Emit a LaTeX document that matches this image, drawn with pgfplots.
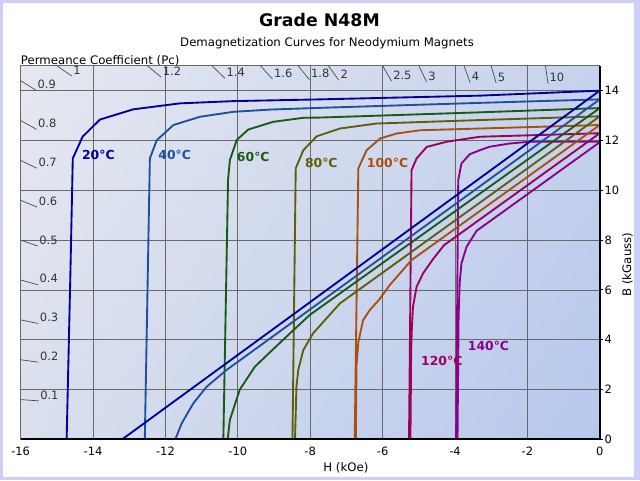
\documentclass[border=0pt]{standalone}
\usepackage{fontspec}
\setmainfont{DejaVu Sans}
\usepackage{pgfplots}
\pgfplotsset{compat=1.18}
\usetikzlibrary{shadings}

\definecolor{framec}{RGB}{206,206,250}
\definecolor{bgTL}{RGB}{230,232,241}
\definecolor{bgTR}{RGB}{198,210,236}
\definecolor{bgBL}{RGB}{218,223,237}
\definecolor{bgBR}{RGB}{182,200,237}
\definecolor{gridc}{RGB}{105,105,105}
\definecolor{pcc}{RGB}{70,70,70}
\definecolor{c20}{RGB}{0,0,160}
\definecolor{c40}{RGB}{30,80,160}
\definecolor{c60}{RGB}{25,90,20}
\definecolor{c80}{RGB}{95,95,10}
\definecolor{c100}{RGB}{170,80,15}
\definecolor{c120}{RGB}{155,0,95}
\definecolor{c140}{RGB}{140,0,140}

\tikzset{
  pcl/.style={anchor=south west, inner sep=1pt, font=\fontsize{8.6}{10}\selectfont, text=black!80},
  pcline/.style={pcc, line width=0.5pt},
  tl/.style={anchor=west, inner sep=0pt, font=\bfseries\fontsize{9.3}{11}\selectfont},
  curve/.style={line width=1.4pt},
}

\begin{document}
\begin{tikzpicture}
\useasboundingbox (0,0) rectangle (480pt,360pt);
\fill[framec] (0,0) rectangle (480pt,360pt);
\fill[white] (2.25pt,2.25pt) rectangle (475.5pt,357.75pt);

\node[anchor=base, font=\bfseries\fontsize{13}{15}\selectfont] at (239.6pt,340.5pt) {Grade N48M};
\node[anchor=base, font=\fontsize{8.8}{10}\selectfont] at (245.3pt,325.5pt) {Demagnetization Curves for Neodymium Magnets};
\node[anchor=base west, inner sep=0pt, font=\fontsize{8.8}{10}\selectfont] at (15.5pt,311.6pt) {Permeance Coefficient (Pc)};
\node[anchor=base, inner sep=0pt, font=\fontsize{8.8}{10}\selectfont] at (259.4pt,6.6pt) {H (kOe)};
\node[anchor=base west, rotate=90, inner sep=0pt, font=\fontsize{8.8}{10}\selectfont] at (473.3pt,137.5pt) {B (kGauss)};

\begin{axis}[
  at={(15.5pt,30.4pt)}, anchor=south west,
  scale only axis, width=434.3pt, height=280.3pt,
  xmin=-16, xmax=0, ymin=0, ymax=15,
  clip=false,
  axis background/.style={shade, shading=bilinear interpolation,
    lower left=bgBL, upper left=bgTL, upper right=bgTR, lower right=bgBR},
  xtick={-16,-14,...,0},
  xticklabels={-16,-14,-12,-10,-8,-6,-4,-2,0},
  ytick={0,2,...,14},
  yticklabels={0,2,4,6,8,10,12,14},
  xtick pos=bottom, ytick pos=right, yticklabel pos=right,
  tick align=outside, major tick length=2.25pt,
  xtick style={draw=none},
  ytick style={black, line width=0.75pt},
  yticklabel style={xshift=-2.2pt},
  grid=major,
  major grid style={gridc, line width=0.6pt},
  axis line style={gridc, line width=0.6pt},
  ticklabel style={font=\fontsize{8.6}{10}\selectfont, text=black},
]

% load-line (permeance coefficient) marks
\draw[pcline] (axis cs:-16,1.6) -- (axis cs:-15.504,1.5504) node[pcl] {0.1};
\draw[pcline] (axis cs:-16,3.2) -- (axis cs:-15.5074,3.1015) node[pcl] {0.2};
\draw[pcline] (axis cs:-16,4.8) -- (axis cs:-15.513,4.654) node[pcl] {0.3};
\draw[pcline] (axis cs:-16,6.4) -- (axis cs:-15.5206,6.2082) node[pcl] {0.4};
\draw[pcline] (axis cs:-16,8.0) -- (axis cs:-15.5299,7.765) node[pcl] {0.5};
\draw[pcline] (axis cs:-16,9.6) -- (axis cs:-15.5405,9.3243) node[pcl] {0.6};
\draw[pcline] (axis cs:-16,11.2) -- (axis cs:-15.5521,10.8865) node[pcl] {0.7};
\draw[pcline] (axis cs:-16,12.8) -- (axis cs:-15.5645,12.4516) node[pcl] {0.8};
\draw[pcline] (axis cs:-16,14.4) -- (axis cs:-15.5774,14.0196) node[pcl] {0.9};
\draw[pcline] (axis cs:-15,15) -- (axis cs:-14.5905,14.5905) node[pcl] {1};
\draw[pcline] (axis cs:-12.5,15) -- (axis cs:-12.1167,14.54) node[pcl] {1.2};
\draw[pcline] (axis cs:-10.7143,15) -- (axis cs:-10.3563,14.4988) node[pcl] {1.4};
\draw[pcline] (axis cs:-9.375,15) -- (axis cs:-9.0408,14.4653) node[pcl] {1.6};
\draw[pcline] (axis cs:-8.3333,15) -- (axis cs:-8.0211,14.438) node[pcl] {1.8};
\draw[pcline] (axis cs:-7.5,15) -- (axis cs:-7.2079,14.4157) node[pcl] {2};
\draw[pcline] (axis cs:-6,15) -- (axis cs:-5.7503,14.3757) node[pcl] {2.5};
\draw[pcline] (axis cs:-5,15) -- (axis cs:-4.7834,14.3501) node[pcl] {3};
\draw[pcline] (axis cs:-3.75,15) -- (axis cs:-3.5803,14.3213) node[pcl] {4};
\draw[pcline] (axis cs:-3,15) -- (axis cs:-2.8613,14.3066) node[pcl] {5};
\draw[pcline] (axis cs:-1.5,15) -- (axis cs:-1.4285,14.2855) node[pcl] {10};

% intrinsic curves
\addplot[c20, curve] coordinates {
  (0,14.0) (-3.31,13.80) (-7.73,13.65) (-10.13,13.58) (-11.60,13.49)
  (-12.89,13.25) (-13.81,12.84) (-14.29,12.15) (-14.56,11.28) (-14.63,6.4) (-14.73,0)};
\addplot[c40, curve] coordinates {
  (0,13.65) (-3.31,13.51) (-7.73,13.31) (-9.11,13.24) (-10.13,13.15)
  (-11.05,12.95) (-11.78,12.62) (-12.24,12.01) (-12.43,11.28) (-12.57,0)};
\addplot[c60, curve] coordinates {
  (0,13.30) (-3.31,13.13) (-7.73,12.92) (-8.19,12.91) (-9.02,12.75)
  (-9.71,12.44) (-10.03,12.02) (-10.22,11.21) (-10.27,10.41) (-10.40,0)};
\addplot[c80, curve] coordinates {
  (0,12.97) (-3.31,12.82) (-6.17,12.68) (-7.18,12.48) (-7.82,12.17)
  (-8.19,11.61) (-8.40,10.88) (-8.49,0)};
\addplot[c100, curve] coordinates {
  (0,12.62) (-3.31,12.48) (-4.97,12.41) (-5.61,12.28) (-6.07,12.08)
  (-6.44,11.61) (-6.67,10.88) (-6.77,0)};
\addplot[c120, curve] coordinates {
  (0,12.29) (-3.31,12.15) (-4.23,11.95) (-4.78,11.74) (-5.06,11.28)
  (-5.20,10.81) (-5.27,0)};
\addplot[c140, curve] coordinates {
  (0,11.95) (-1.93,11.95) (-2.48,11.88) (-3.04,11.75) (-3.31,11.61)
  (-3.59,11.45) (-3.82,11.08) (-3.91,10.41) (-3.97,0)};

% normal curves
\addplot[c20, curve] coordinates {(0,14.0) (-13.2,0)};
\addplot[c40, curve] coordinates {
  (0,13.65) (-10.31,2.79) (-10.86,2.12) (-11.23,1.45) (-11.55,0.65) (-11.73,0)};
\addplot[c60, curve] coordinates {
  (0,13.30) (-8.01,5.00) (-8.75,4.00) (-9.53,2.92) (-9.95,1.99) (-10.22,0.78) (-10.28,0)};
\addplot[c80, curve] coordinates {
  (0,12.97) (-7.18,5.46) (-7.92,4.26) (-8.19,3.59) (-8.33,2.79) (-8.38,2.12) (-8.42,0)};
\addplot[c100, curve] coordinates {
  (0,12.62) (-5.2,7.2) (-5.8,6.2) (-6.1,5.6) (-6.35,5.2) (-6.54,4.79) (-6.67,3.9) (-6.72,3.0) (-6.74,0)};
\addplot[c120, curve] coordinates {
  (0,12.29) (-4.3,7.80) (-4.6,7.25) (-4.88,6.67) (-5.06,6.13) (-5.16,5.33) (-5.19,4.5) (-5.21,3.6) (-5.23,0)};
\addplot[c140, curve] coordinates {
  (0,11.93) (-3.1,8.69) (-3.40,8.38) (-3.68,7.73) (-3.82,7.07) (-3.87,6.27) (-3.90,4.9) (-3.93,0)};

% curve labels
\node[tl, text=c20]  at (axis cs:-14.31,11.42) {20°C};
\node[tl, text=c40]  at (axis cs:-12.20,11.42) {40°C};
\node[tl, text=c60]  at (axis cs:-10.03,11.34) {60°C};
\node[tl, text=c80]  at (axis cs:-8.15,11.08) {80°C};
\node[tl, text=c100] at (axis cs:-6.44,11.08) {100°C};
\node[tl, text=c120] at (axis cs:-4.94,3.17) {120°C};
\node[tl, text=c140] at (axis cs:-3.65,3.76) {140°C};

% black axis lines (bottom, right)
\draw[black, line width=1.5pt] (rel axis cs:0,0) -- (rel axis cs:1,0) -- (rel axis cs:1,1);
\end{axis}
\end{tikzpicture}
\end{document}
